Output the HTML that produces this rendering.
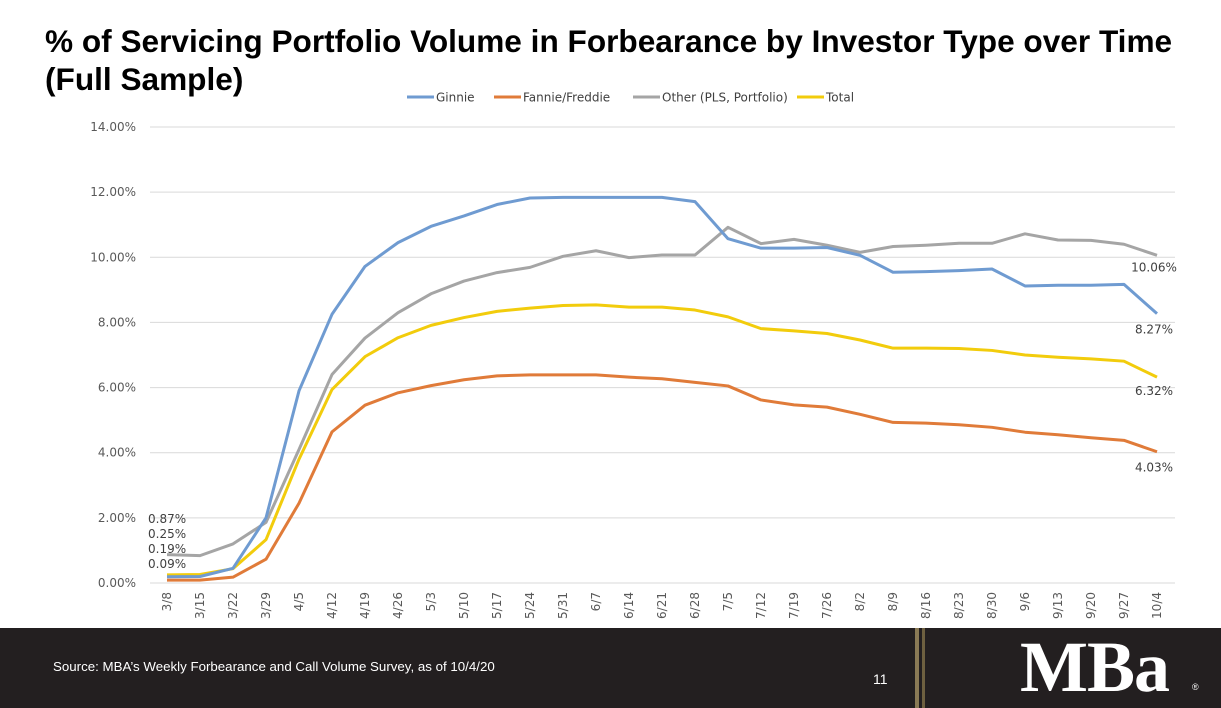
<!DOCTYPE html>
<html><head><meta charset="utf-8"><style>
body{margin:0;width:1221px;height:708px;overflow:hidden;background:#fff;font-family:"Liberation Sans",sans-serif;position:relative}
#title{position:absolute;left:45px;top:22px;font-weight:bold;font-size:31.6px;line-height:38px;color:#000;margin:0;white-space:nowrap}
#footer{position:absolute;left:0;top:628px;width:1221px;height:80px;background:#231f20}
svg text{font-family:"DejaVu Sans","Liberation Sans",sans-serif}
</style></head><body>
<h1 id="title">% of Servicing Portfolio Volume in Forbearance by Investor Type over Time<br>(Full Sample)</h1>
<svg id="chart" width="1221" height="628" style="position:absolute;left:0;top:0"></svg>
<div id="footer">
<div style="position:absolute;left:53px;top:31px;color:#fff;font-size:13.3px">Source: MBA’s Weekly Forbearance and Call Volume Survey, as of 10/4/20</div>
<div style="position:absolute;left:873px;top:43px;color:#fff;font-size:14px">11</div>
<div style="position:absolute;left:915px;top:0;width:4px;height:80px;background:#8a7a55"></div>
<div style="position:absolute;left:922px;top:0;width:3px;height:80px;background:#6e6040"></div>
<div style="position:absolute;left:1020px;top:8px;color:#fff;font-family:'Liberation Serif',serif;font-weight:bold;font-size:72px;line-height:62px;letter-spacing:-1px">MBa</div>
<div style="position:absolute;left:1192px;top:54px;color:#fff;font-size:9px">®</div>
</div>
<script>
const categories=["3/8","3/15","3/22","3/29","4/5","4/12","4/19","4/26","5/3","5/10","5/17","5/24","5/31","6/7","6/14","6/21","6/28","7/5","7/12","7/19","7/26","8/2","8/9","8/16","8/23","8/30","9/6","9/13","9/20","9/27","10/4"];
const ginnie=[0.19,0.2,0.45,2.0,5.9,8.25,9.72,10.45,10.95,11.27,11.62,11.82,11.84,11.84,11.84,11.84,11.71,10.57,10.28,10.28,10.3,10.06,9.54,9.56,9.59,9.64,9.12,9.14,9.14,9.17,8.27];
const fannie=[0.09,0.09,0.18,0.73,2.45,4.64,5.46,5.84,6.06,6.24,6.36,6.39,6.39,6.39,6.32,6.27,6.16,6.05,5.62,5.47,5.40,5.18,4.93,4.91,4.86,4.78,4.63,4.55,4.46,4.38,4.03];
const other=[0.87,0.84,1.2,1.86,4.1,6.4,7.52,8.3,8.88,9.27,9.53,9.69,10.03,10.2,9.99,10.07,10.07,10.92,10.42,10.55,10.37,10.15,10.33,10.37,10.43,10.43,10.72,10.53,10.52,10.4,10.06];
const total=[0.25,0.26,0.44,1.33,3.8,5.94,6.95,7.53,7.91,8.15,8.34,8.44,8.52,8.54,8.47,8.47,8.38,8.17,7.81,7.74,7.66,7.46,7.21,7.21,7.2,7.14,7.0,6.93,6.88,6.81,6.32];
const yTicks=[0,2,4,6,8,10,12,14];
const startLabels=["0.87%","0.25%","0.19%","0.09%"];
const NS="http://www.w3.org/2000/svg";
const svg=document.getElementById('chart');
const x=i=>167+i*(990/(categories.length-1));
const y=v=>583-v*(456/14);
function mk(t,a,p){const e=document.createElementNS(NS,t);for(const k in a)e.setAttribute(k,a[k]);(p||svg).appendChild(e);return e;}
yTicks.forEach(v=>{
 const l=mk('line',{x1:150,x2:1175,y1:y(v),y2:y(v),stroke:'#d9d9d9','stroke-width':1});
 
 
 const t=mk('text',{x:136,y:y(v)+4,'text-anchor':'end','font-size':12,fill:'#595959'});
 t.textContent=v.toFixed(2)+'%';
 
 
});
categories.forEach((c,i)=>{
 const t=mk('text',{transform:`translate(${x(i)+4},${592}) rotate(-90)`,'text-anchor':'end','font-size':12,fill:'#595959'});
 t.textContent=c;
 
 
});
const series=[["other",other,"#a5a5a5"],["fannie",fannie,"#e07b39"],["total",total,"#f2cc0c"],["ginnie",ginnie,"#6f9bd1"]];
series.forEach(([n,d,c])=>{
 const p=mk('polyline',{points:d.map((v,i)=>x(i)+','+y(v)).join(' '),fill:'none',stroke:c,'stroke-width':3,'stroke-linejoin':'round'});
 
 
});
const last=categories.length-1;
[[other,+18],[ginnie,+22],[total,+20],[fannie,+22]].forEach(([d,off])=>{
 const t=mk('text',{x:x(last)-3,y:y(d[last])+off-2,'text-anchor':'middle','font-size':12,fill:'#404040'});
 t.textContent=d[last].toFixed(2)+'%';
 
 
});
startLabels.forEach((s,i)=>{
 const t=mk('text',{x:148,y:523+i*15,'font-size':12,fill:'#404040'});
 t.textContent=s;
 
 
});
const leg=[["Ginnie","#6f9bd1",407],["Fannie/Freddie","#e07b39",494],["Other (PLS, Portfolio)","#a5a5a5",633],["Total","#f2cc0c",797]];
leg.forEach(([n,c,lx])=>{
 const g=mk('g',{});
 
 
 mk('line',{x1:lx,x2:lx+27,y1:97,y2:97,stroke:c,'stroke-width':3},g);
 const t=mk('text',{x:lx+29,y:101.5,'font-size':12,fill:'#404040'},g);t.textContent=n;
});
</script>
</body></html>
